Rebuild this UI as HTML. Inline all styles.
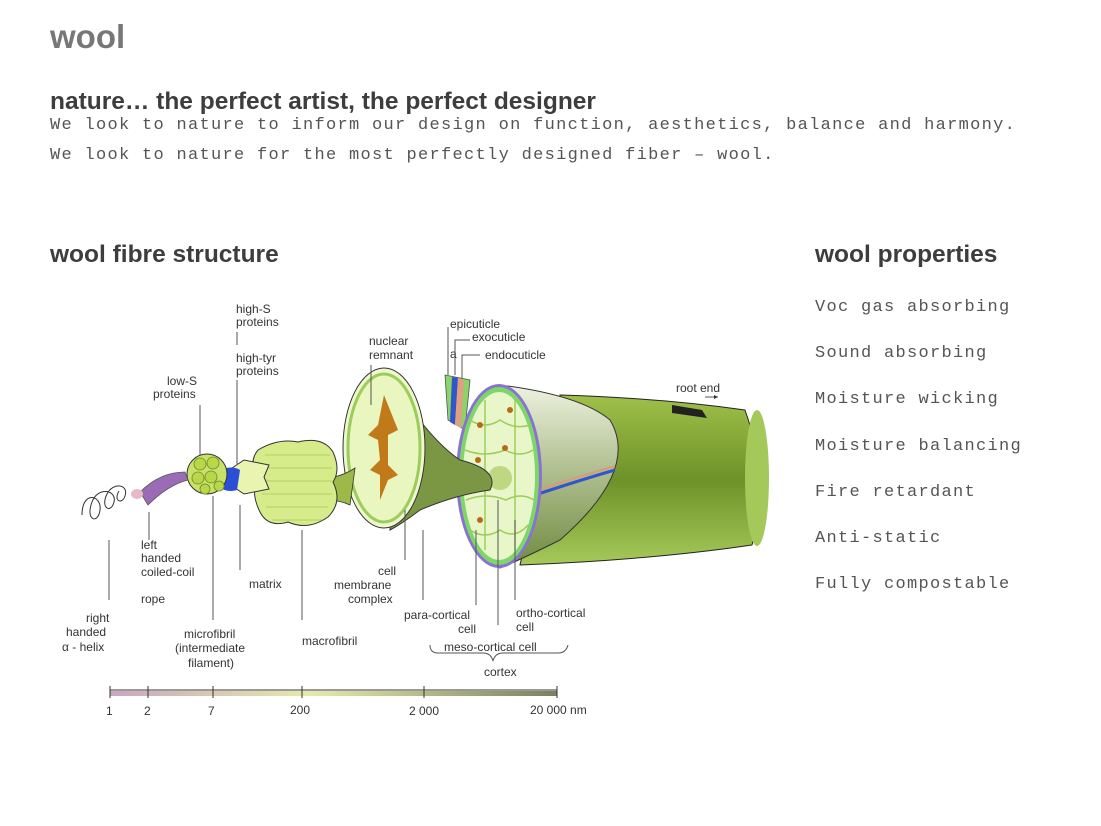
<!DOCTYPE html>
<html><head><meta charset="utf-8"><style>
body{margin:0;width:1101px;height:826px;background:#fff;position:relative;overflow:hidden;font-family:"Liberation Sans",sans-serif}
.t{position:absolute;white-space:nowrap}
.h{font-weight:bold;color:#3d3d3d;font-size:24.5px}
.m{font-family:"Liberation Mono",monospace;font-size:17px;color:#555;letter-spacing:1.3px}
svg{position:absolute;left:0;top:0}
svg text{font-family:"Liberation Sans",sans-serif;font-size:12px;fill:#333}
</style></head><body>
<div class="t" style="left:50px;top:18px;font-size:33px;font-weight:bold;color:#777">wool</div>
<div class="t h" style="left:50px;top:88px">nature… the perfect artist, the perfect designer</div>
<div class="t m" style="left:50px;top:116px">We look to nature to inform our design on function, aesthetics, balance and harmony.</div>
<div class="t m" style="left:50px;top:146px">We look to nature for the most perfectly designed fiber – wool.</div>
<div class="t h" style="left:50px;top:241px">wool fibre structure</div>
<div class="t h" style="left:815px;top:241px">wool properties</div>
<div class="t m" style="left:815px;top:298px">Voc gas absorbing</div>
<div class="t m" style="left:815px;top:344px">Sound absorbing</div>
<div class="t m" style="left:815px;top:390px">Moisture wicking</div>
<div class="t m" style="left:815px;top:437px">Moisture balancing</div>
<div class="t m" style="left:815px;top:483px">Fire retardant</div>
<div class="t m" style="left:815px;top:529px">Anti-static</div>
<div class="t m" style="left:815px;top:575px">Fully compostable</div>

<svg width="1101" height="826" viewBox="0 0 1101 826">
<defs>
<linearGradient id="bar" x1="0" x2="1"><stop offset="0" stop-color="#c9a6c0"/><stop offset=".45" stop-color="#e6eaa8"/><stop offset="1" stop-color="#7b8060"/></linearGradient>
<linearGradient id="body" x1="0" y1="0" x2="0" y2="1"><stop offset="0" stop-color="#9fc04a"/><stop offset=".5" stop-color="#6e9228"/><stop offset="1" stop-color="#a6c95a"/></linearGradient>
<linearGradient id="cone" x1="0" y1="0" x2="0" y2="1"><stop offset="0" stop-color="#eef2e0"/><stop offset=".4" stop-color="#b8c69a"/><stop offset="1" stop-color="#6f8a40"/></linearGradient>
</defs>
<path d="M560,395 Q660,398 745,410 Q770,480 752,545 Q650,560 520,565 Z" fill="url(#body)" stroke="#222" stroke-width="1"/>
<path d="M672,405 l30,5 l5,8 l-35,-5z" fill="#222"/>
<ellipse cx="757" cy="478" rx="12" ry="68" fill="#a4c85a"/>
<path d="M500,385 Q580,395 610,420 Q640,470 560,540 Q520,560 500,568 Z" fill="url(#cone)" stroke="#333" stroke-width="1"/>
<path d="M520,500 Q580,480 615,470" stroke="#3355cc" stroke-width="3" fill="none"/>
<path d="M520,496 Q580,476 615,466" stroke="#d99a7a" stroke-width="2" fill="none"/>
<path d="M445,375 L470,380 L465,430 L448,420 Z" fill="#8ad46a" stroke="#555" stroke-width=".8"/>
<path d="M452,377 L458,378 L455,425 L450,422Z" fill="#3355cc"/>
<path d="M458,378 L464,380 L461,428 L455,425Z" fill="#e0a080"/>
<ellipse cx="499" cy="476" rx="43" ry="92" fill="#8a72d0"/>
<ellipse cx="499" cy="476" rx="40" ry="89" fill="#7ed66a"/>
<ellipse cx="499" cy="476" rx="36" ry="84" fill="#e9f6c9"/>
<g stroke="#9ccd5a" stroke-width="1.5" fill="none"><path d="M470,420 q15,10 30,0 q15,10 30,5 M465,450 q20,8 40,0 q15,8 28,0 M466,500 q20,-8 40,0 q15,-8 28,0 M470,530 q15,10 30,0 q15,10 28,-5 M485,400 v150 M515,400 v150"/></g>
<g fill="#b86a1a"><circle cx="480" cy="425" r="3"/><circle cx="505" cy="448" r="3"/><circle cx="478" cy="460" r="3"/><circle cx="480" cy="520" r="3"/><circle cx="510" cy="410" r="3"/></g>
<circle cx="500" cy="478" r="12" fill="#b5cf6f" opacity=".8"/>
<path d="M395,385 Q430,440 460,460 Q500,470 490,490 Q455,495 420,510 Q400,525 390,530 Z" fill="#7c9744" stroke="#333" stroke-width="1"/>
<ellipse cx="384" cy="448" rx="41" ry="80" fill="#f0f7d0" stroke="#333" stroke-width="1"/>
<ellipse cx="384" cy="448" rx="36" ry="74" fill="#e9f6c0" stroke="#9ccd5a" stroke-width="3"/>
<path d="M384,395 l-6,30 -10,10 10,5 2,20 -10,10 10,5 0,25 8,-20 10,-5 -10,-10 0,-30 10,-5z" fill="#c07a1a"/>
<path d="M330,478 Q345,475 355,468 L350,505 Q340,500 325,500 Z" fill="#9cb94a" stroke="#333" stroke-width=".8"/>
<path d="M258,450 q20,-12 40,-8 q25,-6 35,10 q8,18 0,30 q10,20 -5,35 q-20,14 -40,5 q-20,6 -28,-10 q-10,-20 -2,-35 q-10,-15 0,-27z" fill="#d6ec8a" stroke="#333" stroke-width="1"/>
<g fill="none" stroke="#a5c45a" stroke-width=".8">
<path d="M265,455 h65 M262,468 h70 M260,481 h72 M262,494 h70 M266,507 h62 M272,520 h50"/></g>
<path d="M232,468 l12,-8 25,5 -5,12 5,12 -25,5 -12,-8z" fill="#e9f4b0" stroke="#333" stroke-width="1"/>
<path d="M220,470 q12,-5 20,0 l-3,20 q-10,3 -18,-3z" fill="#2a4fd6"/>
<circle cx="207" cy="474" r="20" fill="#c9e06a" stroke="#333" stroke-width="1"/>
<g fill="#b8d84a" stroke="#6d8a22" stroke-width=".8"><circle cx="200" cy="464" r="6"/><circle cx="213" cy="463" r="6"/><circle cx="198" cy="478" r="6"/><circle cx="211" cy="477" r="6"/><circle cx="205" cy="489" r="5"/><circle cx="219" cy="486" r="5"/></g>
<path d="M140,492 q20,-20 45,-20 l3,8 q-20,5 -40,25z" fill="#9b6bb5" stroke="#555" stroke-width=".8"/>
<ellipse cx="137" cy="494" rx="6" ry="5" fill="#e8b8c8"/>
<path d="M82,515 c0,-25 20,-20 18,-5 c-2,15 -15,10 -8,-8 c6,-16 25,-12 22,0 c-3,12 -14,6 -7,-8 c6,-12 22,-10 18,2 c-3,9 -12,5 -6,-5" fill="none" stroke="#333" stroke-width="1"/>
<g stroke="#555" stroke-width="1">
<line x1="109" y1="540" x2="109" y2="600"/><line x1="149" y1="512" x2="149" y2="540"/>
<line x1="213" y1="496" x2="213" y2="620"/><line x1="240" y1="505" x2="240" y2="570"/>
<line x1="237" y1="332" x2="237" y2="345"/><line x1="237" y1="380" x2="237" y2="465"/>
<line x1="200" y1="405" x2="200" y2="455"/><line x1="302" y1="530" x2="302" y2="620"/>
<line x1="371" y1="365" x2="371" y2="405"/><line x1="405" y1="510" x2="405" y2="560"/>
<line x1="423" y1="530" x2="423" y2="600"/><line x1="476" y1="530" x2="476" y2="605"/>
<line x1="498" y1="500" x2="498" y2="625"/><line x1="515" y1="520" x2="515" y2="600"/>
<polyline points="448,327 448,375" fill="none"/><polyline points="470,340 455,340 455,375" fill="none"/><polyline points="480,355 462,355 462,378" fill="none"/>
<line x1="705" y1="397" x2="718" y2="397"/>
<path d="M430,645 q0,8 8,8 h45 q8,0 10,8 q2,-8 10,-8 h55 q8,0 10,-8" fill="none"/>
</g>
<path d="M718,397 l-4,-2 v4z" fill="#333"/>
<g>
<text x="236" y="313">high-S</text><text x="236" y="326">proteins</text>
<text x="236" y="362">high-tyr</text><text x="236" y="375">proteins</text>
<text x="167" y="385">low-S</text><text x="153" y="398">proteins</text>
<text x="369" y="345">nuclear</text><text x="369" y="359">remnant</text>
<text x="450" y="328">epicuticle</text><text x="472" y="341">exocuticle</text><text x="450" y="358">a</text><text x="485" y="359">endocuticle</text>
<text x="676" y="392">root end</text>
<text x="141" y="549">left</text><text x="141" y="562">handed</text><text x="141" y="576">coiled-coil</text><text x="141" y="603">rope</text>
<text x="249" y="588">matrix</text>
<text x="86" y="622">right</text><text x="66" y="636">handed</text><text x="62" y="651">α - helix</text>
<text x="184" y="638">microfibril</text><text x="175" y="652">(intermediate</text><text x="188" y="667">filament)</text>
<text x="302" y="645">macrofibril</text>
<text x="378" y="575">cell</text><text x="334" y="589">membrane</text><text x="348" y="603">complex</text>
<text x="404" y="619">para-cortical</text><text x="458" y="633">cell</text>
<text x="516" y="617">ortho-cortical</text><text x="516" y="631">cell</text>
<text x="444" y="651">meso-cortical cell</text><text x="484" y="676">cortex</text>
</g>
<rect x="110" y="691" width="447" height="5" fill="url(#bar)"/>
<g stroke="#333" stroke-width="1"><line x1="110" y1="690" x2="557" y2="690"/>
<line x1="110" y1="686" x2="110" y2="698"/><line x1="148" y1="686" x2="148" y2="698"/><line x1="213" y1="686" x2="213" y2="698"/><line x1="302" y1="686" x2="302" y2="698"/><line x1="424" y1="686" x2="424" y2="698"/><line x1="557" y1="686" x2="557" y2="698"/></g>
<g><text x="106" y="715">1</text><text x="144" y="715">2</text><text x="208" y="715">7</text><text x="290" y="714">200</text><text x="409" y="715">2 000</text><text x="530" y="714">20 000 nm</text></g>
</svg>
</body></html>
